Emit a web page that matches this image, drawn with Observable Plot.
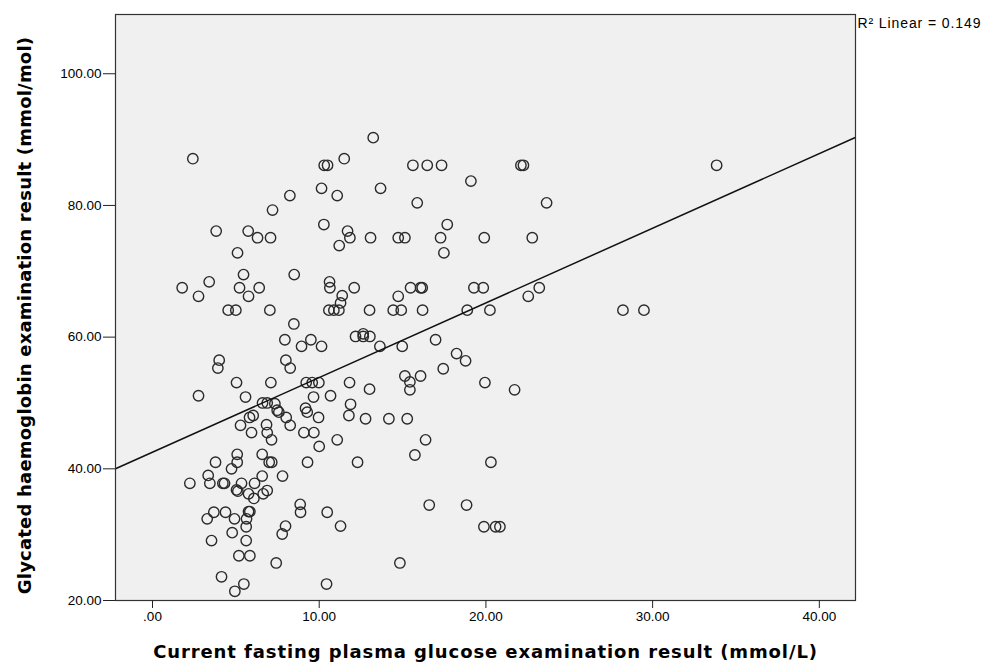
<!DOCTYPE html>
<html>
<head>
<meta charset="utf-8">
<script src="https://cdn.jsdelivr.net/npm/d3@7"></script>
<script src="https://cdn.jsdelivr.net/npm/@observablehq/plot@0.6"></script>
<style>
  html, body { margin: 0; padding: 0; background: #ffffff; }
  #chart svg { display: block; }
</style>
</head>
<body>
<div id="chart"></div>
<script>
// Fasting plasma glucose (mmol/L)
const glucose = [
  2.42, 10.3, 10.5, 11.5, 13.24, 15.62, 16.48, 17.34, 22.1, 22.25, 33.84, 19.1, 10.14, 13.68, 11.08, 8.24,
  15.88, 23.64, 7.2, 3.82, 5.74, 6.3, 7.08, 5.1, 10.28, 11.7, 11.84, 11.2, 17.68, 13.08, 14.74, 15.14,
  17.28, 19.9, 22.78, 17.48, 5.46, 8.5, 3.4, 1.78, 5.22, 6.4, 10.62, 10.64, 12.1, 15.48, 16.08, 16.18,
  19.28, 19.84, 23.2, 2.76, 5.76, 11.38, 11.28, 14.74, 22.54, 4.54, 5.0, 7.04, 10.58, 10.88, 11.18, 13.02,
  14.44, 14.92, 16.2, 18.88, 20.24, 28.22, 29.48, 8.48, 7.94, 9.5, 8.94, 10.14, 12.18, 12.64, 12.64, 13.04,
  13.64, 14.98, 16.98, 18.24, 18.78, 17.44, 4.0, 3.92, 8.0, 8.26, 15.14, 16.08, 15.44, 15.44, 13.02, 19.94,
  21.72, 5.04, 7.1, 9.22, 9.58, 9.98, 11.82, 2.76, 5.58, 9.66, 10.68, 6.6, 6.88, 7.34, 7.48, 7.58,
  9.18, 9.28, 11.88, 11.78, 6.04, 5.82, 8.02, 9.96, 12.78, 14.18, 15.28, 5.28, 6.84, 8.26, 5.94, 6.88,
  9.08, 9.68, 7.14, 11.08, 16.38, 10.0, 5.08, 6.58, 15.74, 5.08, 7.0, 7.15, 3.78, 9.3, 12.3, 20.3,
  4.74, 3.34, 6.58, 7.8, 3.44, 2.24, 4.22, 4.32, 5.34, 6.12, 5.04, 5.12, 5.76, 6.08, 6.64, 6.88,
  8.86, 8.88, 10.48, 3.68, 4.38, 5.76, 5.84, 4.92, 3.28, 5.64, 5.62, 7.98, 7.78, 11.28, 4.78, 3.54,
  5.62, 5.18, 5.84, 7.42, 4.14, 5.48, 4.94, 10.44, 16.6, 18.84, 19.88, 20.58, 20.84, 14.84
];
// Glycated haemoglobin (mmol/mol)
const hba1c = [
  87.1, 86.1, 86.1, 87.1, 90.3, 86.1, 86.1, 86.1, 86.1, 86.1, 86.1, 83.7, 82.6, 82.6, 81.5, 81.5,
  80.4, 80.4, 79.3, 76.1, 76.1, 75.1, 75.1, 72.8, 77.1, 76.1, 75.1, 73.9, 77.1, 75.1, 75.1, 75.1,
  75.1, 75.1, 75.1, 72.8, 69.5, 69.5, 68.4, 67.5, 67.5, 67.5, 68.4, 67.5, 67.5, 67.5, 67.5, 67.5,
  67.5, 67.5, 67.5, 66.2, 66.2, 66.3, 65.2, 66.2, 66.2, 64.1, 64.1, 64.1, 64.1, 64.1, 64.1, 64.1,
  64.1, 64.1, 64.1, 64.1, 64.1, 64.1, 64.1, 62.0, 59.6, 59.6, 58.6, 58.6, 60.1, 60.5, 60.1, 60.1,
  58.6, 58.6, 59.6, 57.5, 56.4, 55.2, 56.5, 55.3, 56.5, 55.3, 54.1, 54.1, 53.2, 52.0, 52.1, 53.1,
  52.0, 53.1, 53.1, 53.1, 53.1, 53.1, 53.1, 51.1, 50.9, 50.9, 51.1, 50.0, 50.0, 49.9, 48.9, 48.6,
  49.2, 48.6, 49.8, 48.1, 48.1, 47.8, 47.8, 47.8, 47.6, 47.6, 47.6, 46.6, 46.7, 46.6, 45.5, 45.5,
  45.5, 45.5, 44.4, 44.4, 44.4, 43.4, 42.2, 42.2, 42.1, 41.0, 41.0, 41.0, 41.0, 41.0, 41.0, 41.0,
  40.0, 39.0, 38.9, 38.9, 37.8, 37.8, 37.8, 37.8, 37.8, 37.8, 36.8, 36.6, 36.2, 35.5, 36.2, 36.7,
  34.6, 33.4, 33.4, 33.4, 33.4, 33.5, 33.5, 32.4, 32.4, 32.4, 31.2, 31.3, 30.1, 31.3, 30.3, 29.1,
  29.1, 26.8, 26.8, 25.7, 23.6, 22.5, 21.4, 22.5, 34.5, 34.5, 31.2, 31.2, 31.2, 25.7
];
const xTicks = [0, 10, 20, 30, 40];
const yTicks = [20, 40, 60, 80, 100];
const xDomain = [-2.22, 42.17];
const yDomain = [20, 109];
// SPSS linear fit
const fitIntercept = 42.52;
const fitSlope = 1.134;
const fitLabel = "R² Linear = 0.149";
const xTitle = "Current fasting plasma glucose examination result (mmol/L)";
const yTitle = "Glycated haemoglobin examination result (mmol/mol)";

const points = glucose.map((g, i) => ({x: g, y: hba1c[i]}));
const fitLine = xDomain.map(x => ({x, y: fitIntercept + fitSlope * x}));
const fmt = d => (d === 0 ? ".00" : d.toFixed(2));
const titleFont = "'DejaVu Sans', Verdana, sans-serif";

const chart = Plot.plot({
  width: 997,
  height: 664,
  marginLeft: 115,
  marginRight: 142,
  marginTop: 14,
  marginBottom: 64,
  style: {fontFamily: "'Liberation Sans', Arial, sans-serif", fontSize: "13px", color: "#000", background: "#fff"},
  x: {domain: xDomain},
  y: {domain: yDomain},
  marks: [
    Plot.frame({fill: "#f0f0f0"}),
    Plot.dot(points, {x: "x", y: "y", r: 5.2, stroke: "#2a2a2a", strokeWidth: 1.4, fill: "none"}),
    Plot.line(fitLine, {x: "x", y: "y", stroke: "#111", strokeWidth: 1.5, clip: true}),
    Plot.frame({stroke: "#333", strokeWidth: 1.2}),
    Plot.axisX({ticks: xTicks, tickFormat: fmt, tickSize: 8, tickPadding: 3, tickWidth: 2, stroke: "#222", label: null, fontSize: 13.5}),
    Plot.axisY({ticks: yTicks, tickFormat: fmt, tickSize: 12, tickPadding: 2, stroke: "#222", label: null, fontSize: 13.5}),
    Plot.text([xTitle], {frameAnchor: "bottom", dy: 57, text: d => d, textAnchor: "middle", fontWeight: "bold", fontSize: 18, fontFamily: titleFont, className: "xtitle"}),
    Plot.text([yTitle], {frameAnchor: "left", dx: -90, dy: 8, rotate: -90, textAnchor: "middle", text: d => d, fontWeight: "bold", fontSize: 18, fontFamily: titleFont, className: "ytitle"}),
    Plot.text([fitLabel], {frameAnchor: "top-right", dx: 2, dy: 4, textAnchor: "start", text: d => d, fontSize: 14, className: "r2"})
  ]
});
d3.select(chart).selectAll(".xtitle text").style("letter-spacing", "0.9px");
d3.select(chart).selectAll(".ytitle text").style("letter-spacing", "0.2px");
d3.select(chart).selectAll(".r2 text").style("letter-spacing", "0.9px");
document.getElementById("chart").appendChild(chart);
</script>
</body>
</html>
